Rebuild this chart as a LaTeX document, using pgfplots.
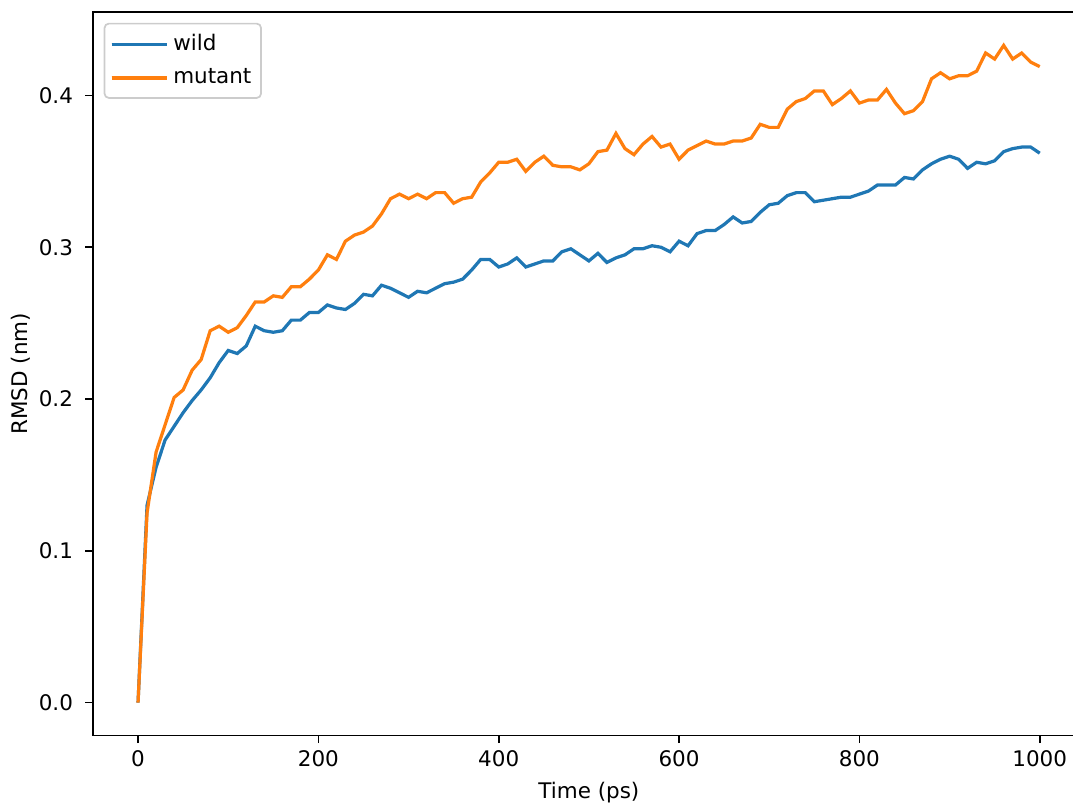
\documentclass[border=0pt]{standalone}
\usepackage{pgfplots}
\pgfplotsset{compat=1.18}
\usepackage{pgfplotstable}
\usepackage{fontspec}
\setmainfont{DejaVu Sans}
\definecolor{mplblue}{HTML}{1F77B4}
\definecolor{mplorange}{HTML}{FF7F0E}

% time (ps), rmsd (nm)
\pgfplotstableread{
t wild mutant
0 0.000 0.000
10 0.130 0.125
20 0.155 0.165
30 0.173 0.183
40 0.182 0.201
50 0.191 0.206
60 0.199 0.219
70 0.206 0.226
80 0.214 0.245
90 0.224 0.248
100 0.232 0.244
110 0.230 0.247
120 0.235 0.255
130 0.248 0.264
140 0.245 0.264
150 0.244 0.268
160 0.245 0.267
170 0.252 0.274
180 0.252 0.274
190 0.257 0.279
200 0.257 0.285
210 0.262 0.295
220 0.260 0.292
230 0.259 0.304
240 0.263 0.308
250 0.269 0.310
260 0.268 0.314
270 0.275 0.322
280 0.273 0.332
290 0.270 0.335
300 0.267 0.332
310 0.271 0.335
320 0.270 0.332
330 0.273 0.336
340 0.276 0.336
350 0.277 0.329
360 0.279 0.332
370 0.285 0.333
380 0.292 0.343
390 0.292 0.349
400 0.287 0.356
410 0.289 0.356
420 0.293 0.358
430 0.287 0.350
440 0.289 0.356
450 0.291 0.360
460 0.291 0.354
470 0.297 0.353
480 0.299 0.353
490 0.295 0.351
500 0.291 0.355
510 0.296 0.363
520 0.290 0.364
530 0.293 0.375
540 0.295 0.365
550 0.299 0.361
560 0.299 0.368
570 0.301 0.373
580 0.300 0.366
590 0.297 0.368
600 0.304 0.358
610 0.301 0.364
620 0.309 0.367
630 0.311 0.370
640 0.311 0.368
650 0.315 0.368
660 0.320 0.370
670 0.316 0.370
680 0.317 0.372
690 0.323 0.381
700 0.328 0.379
710 0.329 0.379
720 0.334 0.391
730 0.336 0.396
740 0.336 0.398
750 0.330 0.403
760 0.331 0.403
770 0.332 0.394
780 0.333 0.398
790 0.333 0.403
800 0.335 0.395
810 0.337 0.397
820 0.341 0.397
830 0.341 0.404
840 0.341 0.395
850 0.346 0.388
860 0.345 0.390
870 0.351 0.396
880 0.355 0.411
890 0.358 0.415
900 0.360 0.411
910 0.358 0.413
920 0.352 0.413
930 0.356 0.416
940 0.355 0.428
950 0.357 0.424
960 0.363 0.433
970 0.365 0.424
980 0.366 0.428
990 0.366 0.422
1000 0.362 0.419
}\rmsd

\begin{document}
\begin{tikzpicture}
\begin{axis}[
  width=462pt, height=337pt,
  scale only axis,
  xmin=-50, xmax=1050,
  ymin=-0.0217, ymax=0.455,
  xtick={0,200,...,1000},
  ytick={0,0.1,0.2,0.3,0.4},
  xticklabel style={/pgf/number format/.cd,1000 sep={}},
  yticklabel style={xshift=-2.3pt, /pgf/number format/.cd,fixed,fixed zerofill,precision=1},
  /pgf/number format/assume math mode=true,
  tick align=outside, tick pos=left,
  major tick length=3.5pt,
  every tick/.style={black, line width=0.8pt},
  axis line style={line width=0.8pt},
  xlabel={Time (ps)}, ylabel={RMSD (nm)},
  xlabel style={at={(rel axis cs:0.5,0)}, anchor=north, inner sep=0pt, yshift=-21.4pt},
  ylabel style={at={(rel axis cs:0,0.5)}, anchor=south, inner sep=0pt, yshift=28.8pt},
  legend style={at={(0,1)}, anchor=north west, xshift=5pt, yshift=-5pt,
    draw=black!20, rounded corners=2pt, line width=0.8pt,
    inner xsep=2.5pt, inner ysep=3pt, row sep=3pt},
  legend cell align=left,
  legend image code/.code={\path (0pt,0pt) -- (26pt,0pt);
    \draw[#1, line width=1.5pt] (0pt,0pt) -- (21pt,0pt);},
]
\addplot[mplblue, line width=1.5pt] table[x=t, y=wild] {\rmsd};
\addlegendentry{wild}
\addplot[mplorange, line width=1.5pt] table[x=t, y=mutant] {\rmsd};
\addlegendentry{mutant}
\end{axis}
% the reference is cut off just short of the right spine
\pgfresetboundingbox
\path (current axis.south west) ++(-43.3pt,-32pt) rectangle ++(499.8pt,374.6pt);
\end{tikzpicture}
\end{document}
